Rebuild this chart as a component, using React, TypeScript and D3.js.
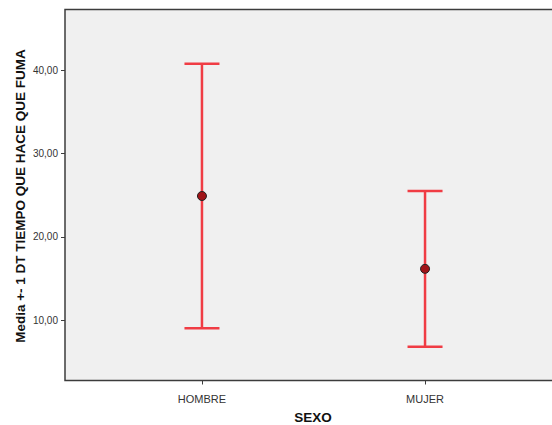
import React from "react";
import * as d3 from "d3";

const categories = ["HOMBRE", "MUJER"];
const means = [24.88, 16.14];
const sds = [15.88, 9.34];
const yTicks = [10, 20, 30, 40];

const W = 552;
const H = 425;

export default function App() {
  const left = 65;
  const top = 9.5;
  const bottom = 380.5;
  const right = 562;
  const y = d3.scaleLinear().domain([10, 40]).range([320, 70]);
  const x = d3.scalePoint<string>().domain(categories).range([left, right]).padding(0.614);
  const fmt = (v: number) => d3.format(".2f")(v).replace(".", ",");
  const capHalf = 17.5;
  const font = "'Liberation Sans', Arial, sans-serif";

  return (
    <div style={{ position: "absolute", left: 0, top: 0 }}>
      <svg width={W} height={H} style={{ display: "block" }} fontFamily={font}>
        <rect x={0} y={0} width={W} height={H} fill="#ffffff" />
        <rect x={left} y={top} width={right - left} height={bottom - top} fill="#f0f0f0" stroke="#3c3c3c" strokeWidth={1.5} />
        {yTicks.map((t) => (
          <g key={t}>
            <line x1={left - 4} x2={left} y1={Math.round(y(t)) + 0.5} y2={Math.round(y(t)) + 0.5} stroke="#3c3c3c" strokeWidth={1} />
            <text x={left - 7} y={y(t)} dy="0.35em" textAnchor="end" fontSize={10} fill="#333">
              {fmt(t)}
            </text>
          </g>
        ))}
        {categories.map((c) => (
          <g key={c}>
            <line x1={Math.round(x(c)!) + 0.5} x2={Math.round(x(c)!) + 0.5} y1={bottom} y2={bottom + 4} stroke="#3c3c3c" strokeWidth={1} />
            <text x={x(c)} y={399} dy="0.35em" textAnchor="middle" fontSize={11} fill="#333">
              {c}
            </text>
          </g>
        ))}
        <text x={313} y={417} dy="0.35em" textAnchor="middle" fontSize={13.5} fontWeight="bold" fill="#111">
          SEXO
        </text>
        <text
          transform={`translate(20,196) rotate(-90)`}
          dy="0.35em"
          textAnchor="middle"
          fontSize={13.5}
          fontWeight="bold"
          fill="#111"
        >
          Media +- 1 DT TIEMPO QUE HACE QUE FUMA
        </text>
        {categories.map((c, i) => {
          const cx = x(c)!;
          const hi = y(means[i] + sds[i]);
          const lo = y(means[i] - sds[i]);
          return (
            <g key={c}>
              <line x1={cx} x2={cx} y1={hi} y2={lo} stroke="#f03c44" strokeWidth={2.5} />
              <line x1={cx - capHalf} x2={cx + capHalf} y1={hi} y2={hi} stroke="#f03c44" strokeWidth={2.5} />
              <line x1={cx - capHalf} x2={cx + capHalf} y1={lo} y2={lo} stroke="#f03c44" strokeWidth={2.5} />
              <circle cx={cx} cy={y(means[i])} r={4.5} fill="#a01418" stroke="#222" strokeWidth={1} />
            </g>
          );
        })}
      </svg>
    </div>
  );
}
